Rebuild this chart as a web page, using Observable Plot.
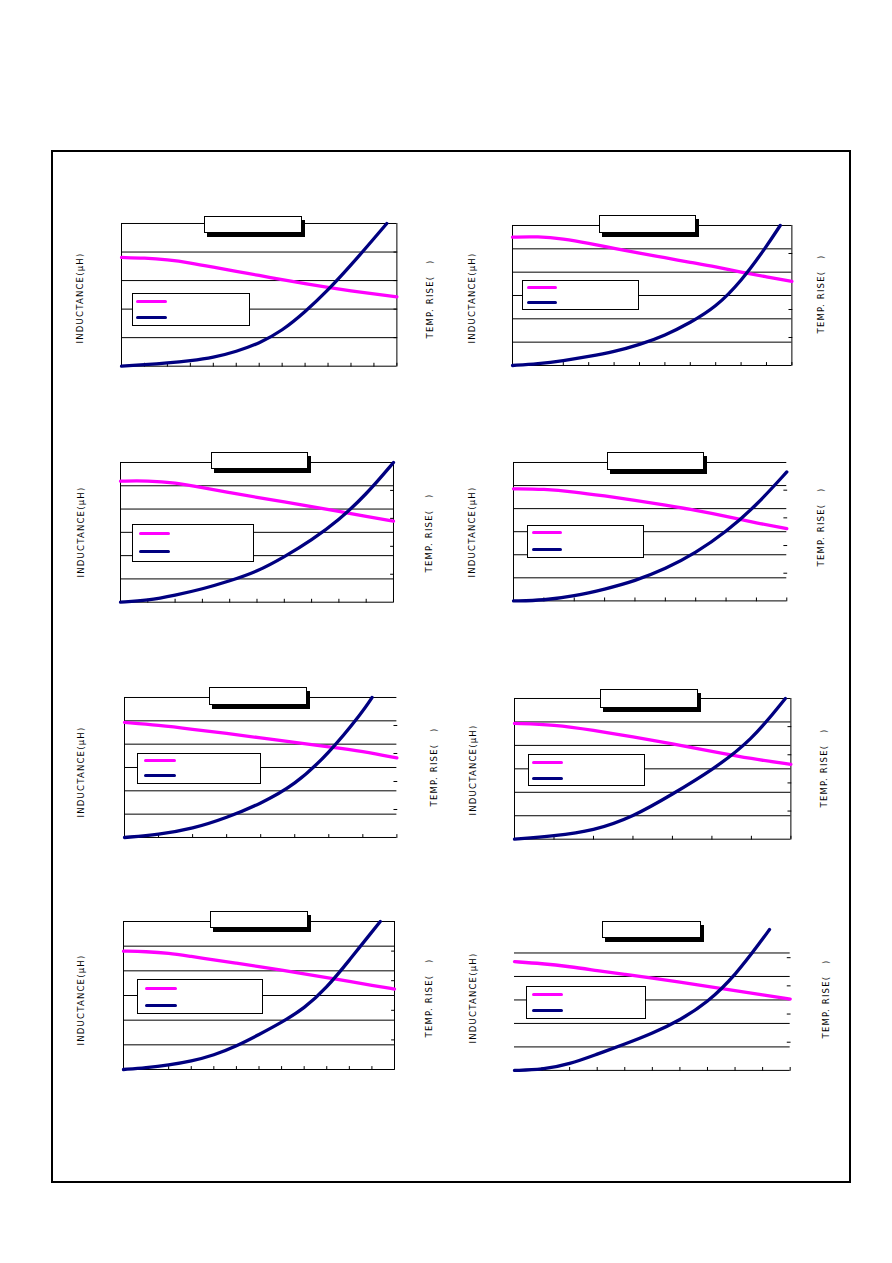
<!DOCTYPE html>
<html>
<head>
<meta charset="utf-8">
<script src="https://cdn.jsdelivr.net/npm/d3@7"></script>
<script src="https://cdn.jsdelivr.net/npm/@observablehq/plot@0.6"></script>
<style>
  html, body { margin: 0; padding: 0; background: #fff; }
  #page { position: relative; width: 892px; height: 1263px; overflow: hidden; background: #fff; }
  .abs { position: absolute; box-sizing: border-box; }
  .frame { border: 2.7px solid #000; }
  .tbox { border: 1px solid #000; background: #fff; box-shadow: 3px 4px 0 #000; }
  .lbox { border: 1px solid #000; background: #fff; }
  .sw { height: 3px; border-radius: 1.5px; }
  .lab { font-family: "DejaVu Sans", sans-serif; font-size: 8.5px; letter-spacing: 1.2px; color: #000;
         white-space: nowrap; transform: translate(-50%, -50%) rotate(-90deg); line-height: 1; }
  svg { position: absolute; overflow: visible; }
</style>
</head>
<body>
<div id="page"></div>
<script>
// ---- data: x = current (tick divisions), L = inductance (grid divisions), T = temp rise (℃, 10 per right tick)
const p1_x  = [0,1,2,3,4,5,6,7,8,9,10,11,12];
const p1_L  = [3.81,3.79,3.73,3.62,3.47,3.32,3.18,3.03,2.89,2.76,2.64,2.53,2.43];
const p1_tx = [0,1,2,3,4,5,6,7,8,9,10,11,11.56];
const p1_T  = [0,0.5,1.1,1.9,3.0,5.1,8.0,12.4,19,26.6,35.4,44.7,50];

const p2_x  = [0,1,2,3,4,5,6,7,8,9,10,11];
const p2_L  = [5.50,5.53,5.43,5.24,5.02,4.81,4.62,4.42,4.23,4.00,3.80,3.60];
const p2_tx = [0,1,2,3,4,5,6,7,8,9,10,10.54];
const p2_T  = [0,0.6,1.7,3.2,4.9,7.4,10.7,15.3,20.8,30,42.5,50];

const p3_x  = [0,1,2,3,4,5,6,7,8,9,10];
const p3_L  = [5.20,5.22,5.13,4.92,4.71,4.50,4.31,4.11,3.90,3.68,3.48];
const p3_tx = [0,1,2,3,4,5,6,7,8,9,10];
const p3_T  = [0,0.6,2.5,4.7,7.6,10.9,16.2,22.2,29.4,38.5,50];

const p4_x  = [0,1,2,3,4,5,6,7,8,9];
const p4_L  = [4.86,4.85,4.73,4.55,4.36,4.15,3.93,3.67,3.38,3.13];
const p4_tx = [0,1,2,3,4,5,6,7,8,9];
const p4_T  = [0,0.2,1.7,4.2,7.2,11.5,17.3,24.9,34.5,46.6];

const p5_x  = [0,1,2,3,4,5,6,7,8];
const p5_L  = [4.93,4.81,4.64,4.46,4.27,4.07,3.89,3.70,3.41];
const p5_tx = [0,1,2,3,4,5,6,7,7.27];
const p5_T  = [0,1,3.1,7,12.1,18.7,30,45,50];

const p6_x  = [0,1,2,3,4,5,6,7];
const p6_L  = [4.94,4.89,4.65,4.36,4.07,3.75,3.43,3.19];
const p6_tx = [0,1,2,3,4,5,6,6.86];
const p6_T  = [0,1.1,3,7.9,16.0,24.5,35.0,50];

const p7_x  = [0,1,2,3,4,5,6,7,8,9,10,11,12];
const p7_L  = [4.80,4.78,4.72,4.58,4.45,4.31,4.17,4.03,3.88,3.72,3.57,3.41,3.26];
const p7_tx = [0,1,2,3,4,5,6,7,8,9,10,11,11.37];
const p7_T  = [0,0.6,1.5,2.8,4.8,7.9,11.8,15.9,20.6,27.6,36.9,46.5,50];

const p8_x  = [0,1,2,3,4,5,6,7,8,9,10];
const p8_L  = [4.63,4.55,4.42,4.25,4.09,3.93,3.76,3.58,3.40,3.22,3.04];
const p8_tx = [0,1,2,3,4,5,6,7,8,9,9.25];
const p8_T  = [0,0.2,2.2,5.8,9.3,13.1,17.8,24.1,33.6,46.6,50];

const tempTicks = [10, 20, 30, 40];
const tempMax = 50;
const yLabel = "INDUCTANCE(\u03bcH)";
const y2Label = "TEMP. RISE(\u00a0\u00a0\u00a0)";
const lColor = "#FF00FF";
const tColor = "#000080";

// ---- layout (pixel placement of each panel on the page)
const panels = [
  {x: p1_x, L: p1_L, tx: p1_tx, T: p1_T, nx: 12, ny: 5, box: [121.3, 396.7, 223.3, 366], edges: {l: 1, r: 1, t: 1},
   title: [204, 302, 216, 233], legend: [132, 250, 293, 326], sw: [136, 167, 301, 317.5], labL: [80, 298], labR: [429.5, 299]},
  {x: p2_x, L: p2_L, tx: p2_tx, T: p2_T, nx: 11, ny: 6, box: [512.3, 791.7, 225, 365], edges: {l: 1, r: 1, t: 1},
   title: [599, 696, 215, 233], legend: [522, 639, 280, 310], sw: [527, 557, 287.7, 302], labL: [472.3, 298], labR: [821, 294]},
  {x: p3_x, L: p3_L, tx: p3_tx, T: p3_T, nx: 10, ny: 6, box: [120.3, 393.3, 462, 601.7], edges: {l: 1, r: 1, t: 1},
   title: [211, 308, 452, 468.5], legend: [132, 254, 524, 561.5], sw: [138.5, 170, 533, 551.7], labL: [81, 531.5], labR: [428.5, 532.5]},
  {x: p4_x, L: p4_L, tx: p4_tx, T: p4_T, nx: 9, ny: 6, box: [512.7, 786, 462.3, 600.7], edges: {l: 1, r: 0, t: 1},
   title: [607, 704, 452, 469.5], legend: [527, 644, 525, 557.5], sw: [532, 562, 532.7, 549], labL: [472, 531.5], labR: [821, 527]},
  {x: p5_x, L: p5_L, tx: p5_tx, T: p5_T, nx: 8, ny: 6, box: [124.3, 396.7, 697.3, 837.3], edges: {l: 1, r: 0, t: 1},
   title: [209, 307, 687, 704.5], legend: [137, 260.5, 753, 783.5], sw: [144, 175.7, 760.3, 775.3], labL: [81, 771.5], labR: [433.5, 766.7]},
  {x: p6_x, L: p6_L, tx: p6_tx, T: p6_T, nx: 7, ny: 6, box: [514.3, 790.7, 698.3, 839], edges: {l: 1, r: 1, t: 1},
   title: [600, 697.5, 689, 707.5], legend: [528, 644.5, 754, 786], sw: [532, 563, 762.3, 778], labL: [473, 770], labR: [824, 767.5]},
  {x: p7_x, L: p7_L, tx: p7_tx, T: p7_T, nx: 12, ny: 6, box: [123.3, 394.3, 921.3, 1069.3], edges: {l: 1, r: 1, t: 1},
   title: [210, 308, 911, 927.5], legend: [137, 262.5, 979, 1013.5], sw: [145.3, 176.7, 988.3, 1005], labL: [81, 1000], labR: [429, 998.3]},
  {x: p8_x, L: p8_L, tx: p8_tx, T: p8_T, nx: 10, ny: 6, box: [514.3, 790, 928.8, 1069.7], edges: {l: 0, r: 0, t: 0},
   title: [602, 701, 921, 938], legend: [526, 646, 986, 1018.5], sw: [532, 563, 994.3, 1010.3], labL: [473, 998.3], labR: [826, 999]}
];

const page = document.getElementById("page");
function div(cls, left, top, w, h, style = "") {
  const d = document.createElement("div");
  d.className = "abs " + cls;
  d.style.cssText = `left:${left}px;top:${top}px;width:${w}px;height:${h}px;${style}`;
  page.appendChild(d);
  return d;
}

// outer frame
div("frame", 51, 150, 800, 1033);

const tickShape = {draw(ctx, l) { ctx.moveTo(0, 0); ctx.lineTo(0, -l); }};
const m = 4;

panels.forEach(p => {
  const [L, R, T, B] = p.box;
  const w = R - L, h = B - T;
  const k = p.ny / tempMax;
  const indData = p.x.map((x, i) => ({x, v: p.L[i]}));
  const tmpData = p.tx.map((x, i) => ({x, v: p.T[i]}));
  const gridLevels = d3.range(1, p.ny + (p.edges.t ? 1 : 0));
  const marks = [
    Plot.ruleY(gridLevels, {stroke: "#000", strokeWidth: 1}),
    Plot.ruleY([0], {stroke: "#000", strokeWidth: 1}),
    Plot.vector(d3.range(1, p.nx + 1), {x: d => d, y: 0, length: 3, anchor: "start", shape: tickShape, stroke: "#000", strokeWidth: 1}),
    Plot.vector(tempTicks, {x: p.nx, y: d => d * k, length: 3, rotate: -90, anchor: "start", shape: tickShape, stroke: "#000", strokeWidth: 1}),
    Plot.line(indData, {x: "x", y: "v", stroke: lColor, strokeWidth: 3.3, curve: "basis"}),
    Plot.line(tmpData, {x: "x", y: d => d.v * k, stroke: tColor, strokeWidth: 3.3, curve: "basis"})
  ];
  if (p.edges.l) marks.unshift(Plot.ruleX([0], {y1: 0, y2: p.ny, stroke: "#000", strokeWidth: 1}));
  if (p.edges.r) marks.unshift(Plot.ruleX([p.nx], {y1: 0, y2: p.ny, stroke: "#000", strokeWidth: 1}));
  const svg = Plot.plot({
    width: w + 2 * m, height: h + 2 * m,
    marginLeft: m, marginRight: m, marginTop: m, marginBottom: m,
    x: {domain: [0, p.nx], axis: null},
    y: {domain: [0, p.ny], axis: null},
    style: {background: "transparent", overflow: "visible"},
    marks
  });
  svg.style.left = (L - m) + "px";
  svg.style.top = (T - m) + "px";
  page.appendChild(svg);

  // legend box with swatches
  const [lx1, lx2, ly1, ly2] = p.legend;
  div("lbox", lx1, ly1, lx2 - lx1, ly2 - ly1);
  const [sx1, sx2, sy1, sy2] = p.sw;
  div("sw", sx1, sy1 - 1.5, sx2 - sx1, 3, `background:${lColor}`);
  div("sw", sx1, sy2 - 1.5, sx2 - sx1, 3, `background:${tColor}`);

  // title box (shadowed)
  const [tx1, tx2, ty1, ty2] = p.title;
  div("tbox", tx1, ty1, tx2 - tx1, ty2 - ty1);

  // axis labels
  const a = document.createElement("div");
  a.className = "abs lab"; a.textContent = yLabel;
  a.style.left = p.labL[0] + "px"; a.style.top = p.labL[1] + "px";
  page.appendChild(a);
  const b = document.createElement("div");
  b.className = "abs lab"; b.textContent = y2Label;
  b.style.left = p.labR[0] + "px"; b.style.top = p.labR[1] + "px";
  page.appendChild(b);
});
</script>
</body>
</html>
